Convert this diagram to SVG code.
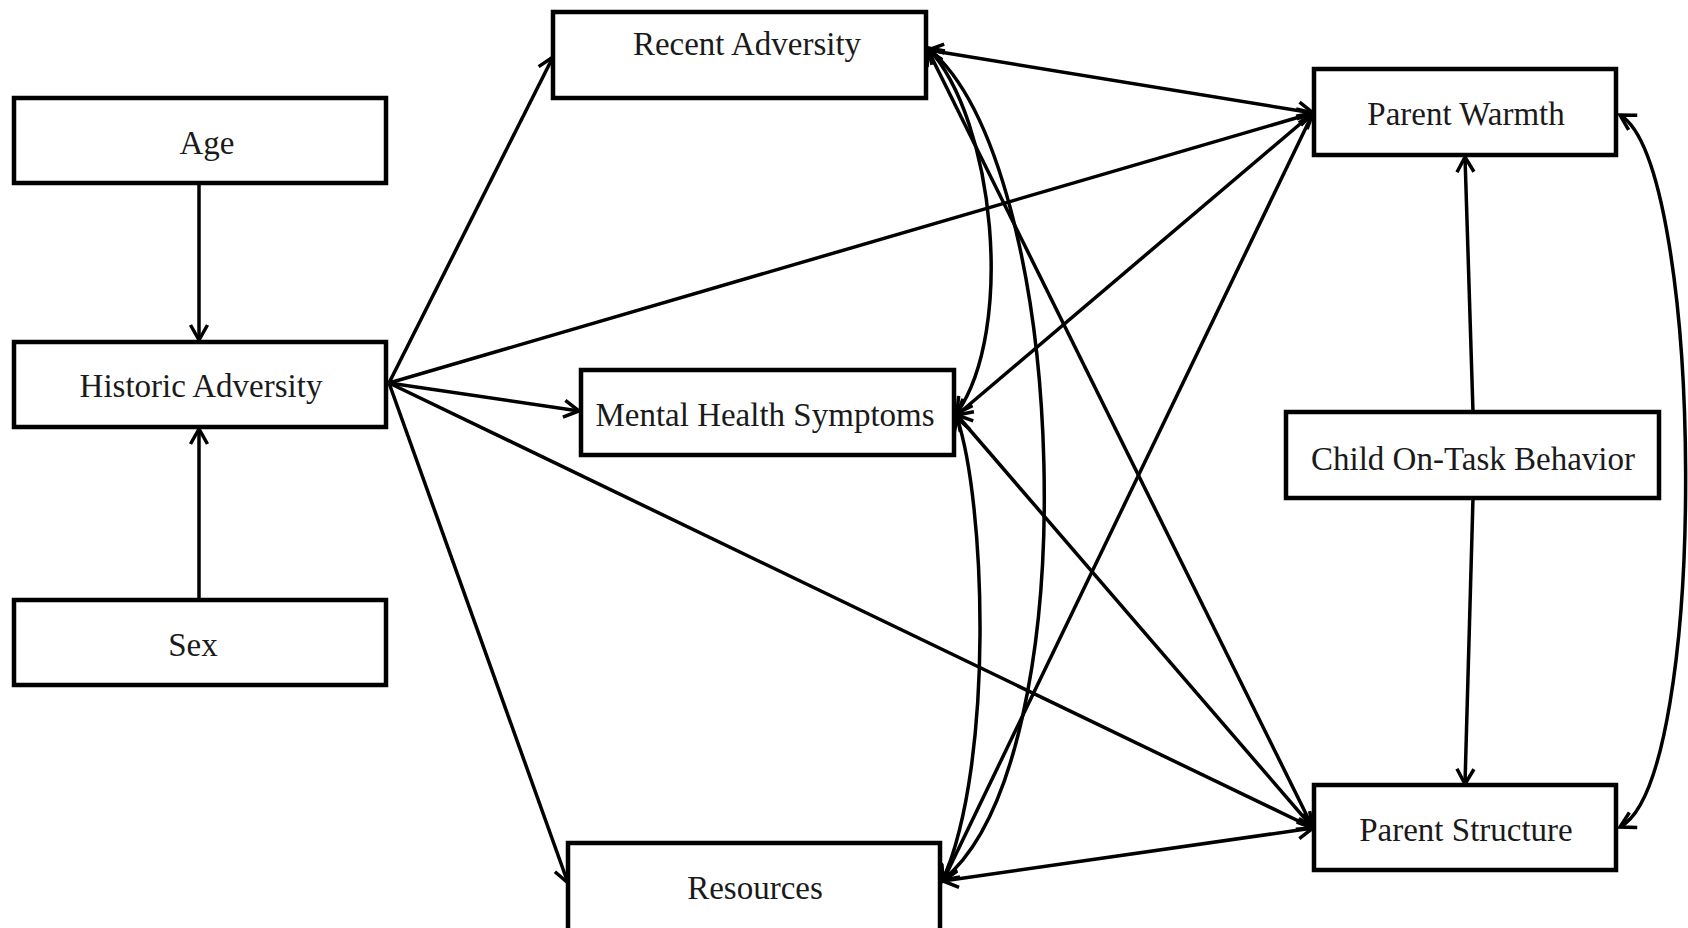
<svg xmlns="http://www.w3.org/2000/svg" width="1688" height="928" viewBox="0 0 1688 928">
<style>
.box{fill:#fff;stroke:#000;stroke-width:4.5}
.lbl{font-family:"Liberation Serif","Times New Roman",serif;font-size:33px;fill:#1a1a1a;text-anchor:middle}
.c{fill:none;stroke:#000;stroke-width:3.5}
.e{marker-end:url(#ah)}
.b{marker-start:url(#ah);marker-end:url(#ah)}
</style>
<defs>
<marker id="ah" viewBox="-20 -12 24 24" refX="0" refY="0" markerWidth="24" markerHeight="24" markerUnits="userSpaceOnUse" orient="auto-start-reverse">
<path d="M-15,-8.5 L0,0 L-15,8.5" fill="none" stroke="#000" stroke-width="3.5"/>
</marker>
</defs>
<rect width="1688" height="928" fill="#fff"/>
<g id="connectors">
<path class="c e" d="M199,183 L199,340"/>
<path class="c e" d="M199,600 L199,429"/>
<path class="c e" d="M389,383 L553,57"/>
<path class="c e" d="M389,383 L579,411"/>
<path class="c e" d="M389,383 L568,883"/>
<path class="c e" d="M389,383 L1313,113"/>
<path class="c e" d="M389,383 L1313,828"/>
<path class="c b" d="M928,50 L1313,113"/>
<path class="c b" d="M928,50 L1313,828"/>
<path class="c b" d="M957,415 L1313,113"/>
<path class="c b" d="M957,415 L1313,828"/>
<path class="c b" d="M943,881 L1313,113"/>
<path class="c b" d="M943,881 L1313,828"/>
<path class="c e" d="M1473,412 L1465,157"/>
<path class="c e" d="M1473,498 L1465,784"/>
<path class="c b" d="M928,48 C995,120 1015,330 957,413"/>
<path class="c b" d="M928,48 C1070,165 1090,760 943,880"/>
<path class="c b" d="M957,418 C985,500 995,760 943,880"/>
<path class="c b" d="M1620,115 C1705,165 1710,780 1620,827"/>
</g>
<g id="age"><rect class="box" x="14" y="98" width="372" height="85"/><text class="lbl" x="207" y="154">Age</text></g>
<g id="historic"><rect class="box" x="14" y="342" width="372" height="85"/><text class="lbl" x="201" y="397">Historic Adversity</text></g>
<g id="sex"><rect class="box" x="14" y="600" width="372" height="85"/><text class="lbl" x="193" y="656">Sex</text></g>
<g id="recent"><rect class="box" x="553" y="12" width="373" height="86"/><text class="lbl" x="747" y="55">Recent Adversity</text></g>
<g id="mental"><rect class="box" x="581" y="370" width="373" height="85"/><text class="lbl" x="765" y="426">Mental Health Symptoms</text></g>
<g id="resources"><rect class="box" x="568" y="843" width="372" height="95"/><text class="lbl" x="755" y="899">Resources</text></g>
<g id="warmth"><rect class="box" x="1314" y="69" width="302" height="86"/><text class="lbl" x="1466" y="125">Parent Warmth</text></g>
<g id="child"><rect class="box" x="1286" y="412" width="373" height="86"/><text class="lbl" x="1473" y="470">Child On-Task Behavior</text></g>
<g id="structure"><rect class="box" x="1314" y="785" width="302" height="85"/><text class="lbl" x="1466" y="841">Parent Structure</text></g>
</svg>
